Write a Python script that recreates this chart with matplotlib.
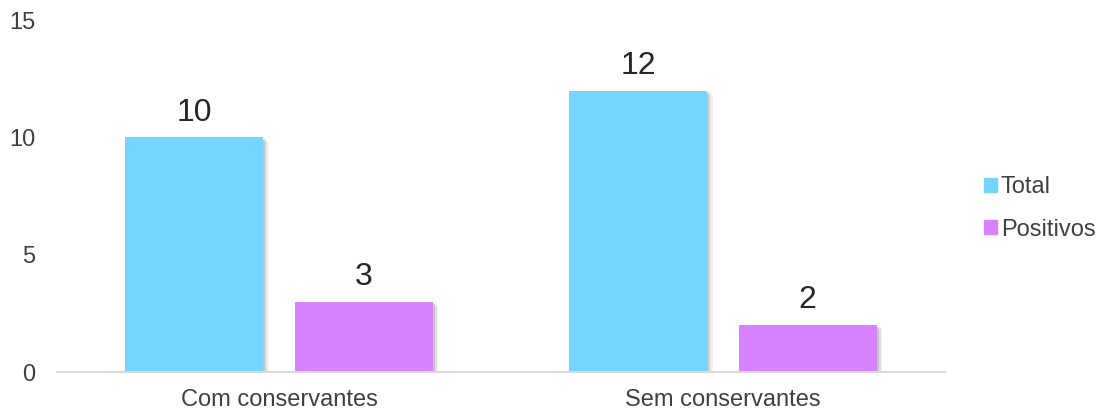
import matplotlib
matplotlib.use("Agg")
import matplotlib.pyplot as plt
import matplotlib.patheffects as pe
import numpy as np

plt.rcParams['font.family'] = ['Liberation Sans', 'DejaVu Sans']

categories = ["Com conservantes", "Sem conservantes"]
series_names = ["Total", "Positivos"]
total = [10, 12]
positivos = [3, 2]
colors = ["#75D5FF", "#D783FF"]

fig = plt.figure(figsize=(11.01, 4.12), dpi=100)
ax = fig.add_axes([0.0518, 0.097, 0.8065, 0.854])

x = np.arange(len(categories))
w = 0.31
off = 0.191

# soft drop shadow like the original
shadow = [pe.SimplePatchShadow(offset=(4, -3), shadow_rgbFace="#000000", alpha=0.05),
          pe.SimplePatchShadow(offset=(3, -2), shadow_rgbFace="#000000", alpha=0.08),
          pe.SimplePatchShadow(offset=(1.5, -1), shadow_rgbFace="#000000", alpha=0.12),
          pe.Normal()]

for i, (vals, name) in enumerate(zip([total, positivos], series_names)):
    pos = x + (i * 2 - 1) * off
    b = ax.bar(pos, vals, w, color=colors[i], label=name, zorder=3)
    for r in b:
        r.set_path_effects(shadow)
    for xi, v in zip(pos, vals):
        ax.text(xi, v + 0.72, str(v), ha="center", va="baseline", fontsize=23, color="#262626")

ax.set_xlim(-0.5, 1.5)
ax.set_ylim(0, 15)
ax.set_yticks([0, 5, 10, 15])
ax.set_xticks(x)
ax.set_xticklabels(categories)
ax.tick_params(axis="both", length=0, labelsize=17, colors="#404040")
ax.tick_params(axis="y", pad=15.5)
ax.tick_params(axis="x", pad=12)
for s in ["top", "right", "left"]:
    ax.spines[s].set_visible(False)
ax.spines["bottom"].set_color("#D9D9D9")
ax.spines["bottom"].set_linewidth(1.5)
ax.spines["bottom"].set_zorder(4)

handles = [plt.Rectangle((0, 0), 1, 1, color=c) for c in colors]
fig.legend(handles, series_names, loc="center left", bbox_to_anchor=(0.894, 0.494),
           frameon=False, fontsize=17, handlelength=0.55, handleheight=0.55,
           handletextpad=0.15, labelspacing=0.85, labelcolor="#404040",
           borderaxespad=0, borderpad=0)

fig.savefig("out.png", dpi=100)
